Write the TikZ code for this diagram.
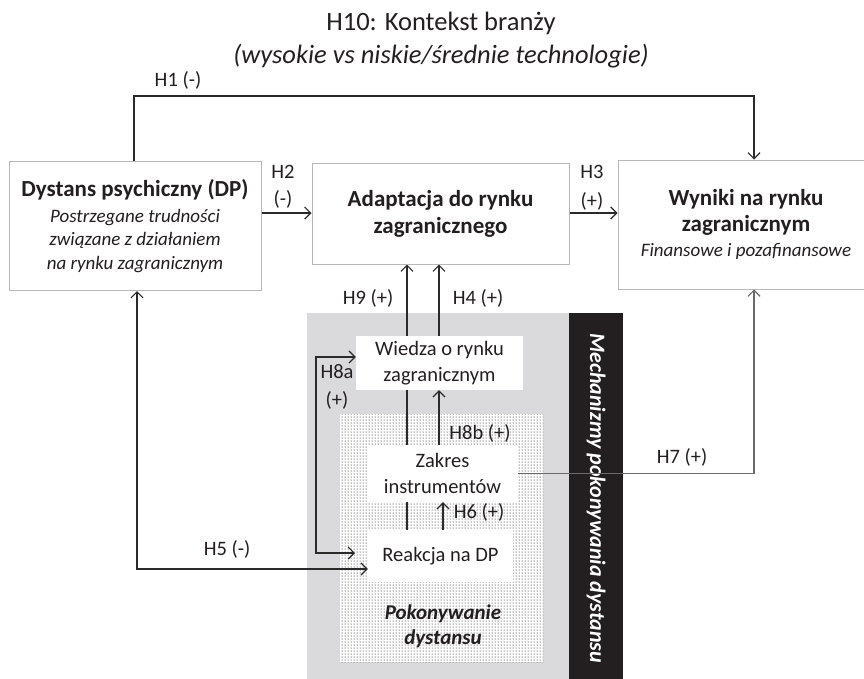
\documentclass[tikz,border=0pt]{standalone}
\usepackage{fontspec}
\setmainfont{Carlito}
\usetikzlibrary{arrows.meta,patterns}
\definecolor{ink}{HTML}{2A2A2A}
\definecolor{txt}{HTML}{231F20}
\definecolor{boxline}{HTML}{B8B8B8}
\definecolor{panel}{HTML}{DADADC}
\definecolor{band}{HTML}{231F20}
\definecolor{h7line}{HTML}{6A6A6A}
\pgfdeclarelayer{panels}
\pgfdeclarelayer{under}
\pgfsetlayers{panels,under,main}
\tikzset{
  tip/.tip={Straight Barb[length=6pt,width=12pt,line width=1.2pt]},
  box/.style={draw=boxline,line width=1pt,fill=white,inner sep=0pt,align=center,text=txt},
  wbox/.style={fill=white,inner sep=0pt,align=center,text=txt,font=\fontsize{20.5}{25.5}\selectfont},
  lbl/.style={text=txt,inner sep=0pt,align=center,font=\fontsize{20.5}{27.5}\selectfont},
  heavy/.style={draw=ink,line width=2pt,-tip},
  light/.style={draw=ink,line width=1.3pt,-tip},
  both/.style={draw=ink,line width=1.3pt,tip-tip},
}
\begin{document}
\begin{tikzpicture}[x=1pt,y=-1pt]
\useasboundingbox (0,0) rectangle (864,678);

% heading
\node[text=txt,font=\fontsize{26.5}{30}\selectfont] (title) at (441,23) {H10: Kontekst branży};
\node[text=txt,font=\fontsize{26.5}{30}\selectfont\itshape] (subtitle) at (441,56) {(wysokie vs niskie/średnie technologie)};

% main boxes
\node[box,minimum width=252pt,minimum height=129pt,font=\fontsize{19}{23.5}\selectfont] (dp) at (135,226)
  {{\fontsize{23}{27}\selectfont\bfseries Dystans psychiczny (DP)}\\[2pt]
   {\itshape Postrzegane trudności}\\
   {\itshape związane z działaniem}\\
   {\itshape na rynku zagranicznym}};
\node[box,minimum width=257pt,minimum height=101pt,font=\fontsize{23}{27}\selectfont\bfseries] (adapt) at (440.5,213.5)
  {Adaptacja do rynku\\zagranicznego};
\node[box,minimum width=256pt,minimum height=129pt,font=\fontsize{19}{24.5}\selectfont] (wyniki) at (746,224.5)
  {{\fontsize{23}{26}\selectfont\bfseries Wyniki na rynku}\\[1.5pt]
   {\fontsize{23}{26}\selectfont\bfseries zagranicznym}\\
   {\itshape Finansowe i pozafinansowe}};

% mechanism panel
\begin{pgfonlayer}{panels}
  \fill[panel] (307,313) rectangle (569,690);
  \fill[band] (569,313) rectangle (623,690);
  \fill[white] (340,414) rectangle (543,662);
  \fill[pattern=dots,pattern color=black] (340,414) rectangle (543,662);
\end{pgfonlayer}
\node[text=white,rotate=-90,font=\fontsize{22}{24}\selectfont\bfseries\itshape] (mech) at (596,498)
  {Mechanizmy pokonywania dystansu};
\node[text=txt,align=center,font=\fontsize{21}{25}\selectfont\bfseries\itshape] (pok) at (443,626)
  {Pokonywanie\\dystansu};

\node[wbox,minimum width=167pt,minimum height=54pt] (wiedza) at (439.5,363)
  {Wiedza o rynku\\zagranicznym};
\node[wbox,minimum width=151pt,minimum height=57pt,font=\fontsize{20.5}{26}\selectfont] (zakres) at (442.5,473.5)
  {Zakres\\instrumentów};
\node[wbox,minimum width=145pt,minimum height=52pt] (reak) at (440.5,556)
  {Reakcja na DP};

% connector columns and rows
\coordinate (c1) at (134,0);
\coordinate (c5) at (137,0);
\coordinate (c8a) at (316,0);
\coordinate (c9) at (407,0);
\coordinate (c4) at (439,0);
\coordinate (c6) at (443,0);
\coordinate (c7) at (754,0);
\coordinate (r1) at (0,96);
\coordinate (r2) at (0,213);
\coordinate (r8a) at (0,357);
\coordinate (r8b) at (0,553);
\coordinate (r5) at (0,569);
\coordinate (t8a) at (355,0);

% connectors
\draw[heavy] (dp.north -| c1) -- (c1 |- r1) -- (c7 |- r1) -- (wyniki.north -| c7);
\draw[heavy] (dp.east |- r2) -- (adapt.west |- r2);
\draw[heavy] (adapt.east |- r2) -- (wyniki.west |- r2);
\begin{pgfonlayer}{under}
  \draw[light] (reak.north -| c9) -- (adapt.south -| c9);
\end{pgfonlayer}
\draw[heavy,line width=2.2pt] (wiedza.north -| c4) -- (adapt.south -| c4);
\draw[light] (zakres.north -| c4) -- (wiedza.south -| c4);
\draw[light] (reak.north -| c6) -- (zakres.south -| c6);
\draw[both] (wiedza.west |- r8a) -- (c8a |- r8a) -- (c8a |- r8b) -- (t8a |- r8b);
\draw[both] (dp.south -| c5) -- (c5 |- r5) -- (reak.west |- r5);
\draw[light,draw=h7line] (zakres.east) -- (c7 |- zakres.east) -- (wyniki.south -| c7);

% hypothesis labels
\node[lbl] (l1) at (178,80) {H1 (-)};
\node[lbl] (l2) at (283,187) {H2\\(-)};
\node[lbl,font=\fontsize{20.5}{29}\selectfont] (l3) at (592,188) {H3\\(+)};
\node[lbl] (l9) at (368,298) {H9 (+)};
\node[lbl] (l4) at (478,298) {H4 (+)};
\node[lbl] (l8a) at (337,387) {H8a\\(+)};
\node[lbl] (l8b) at (480,433) {H8b (+)};
\node[lbl] (l6) at (479,512) {H6 (+)};
\node[lbl] (l5) at (227,549) {H5 (-)};
\node[lbl] (l7) at (682,457) {H7 (+)};
\end{tikzpicture}
\end{document}
